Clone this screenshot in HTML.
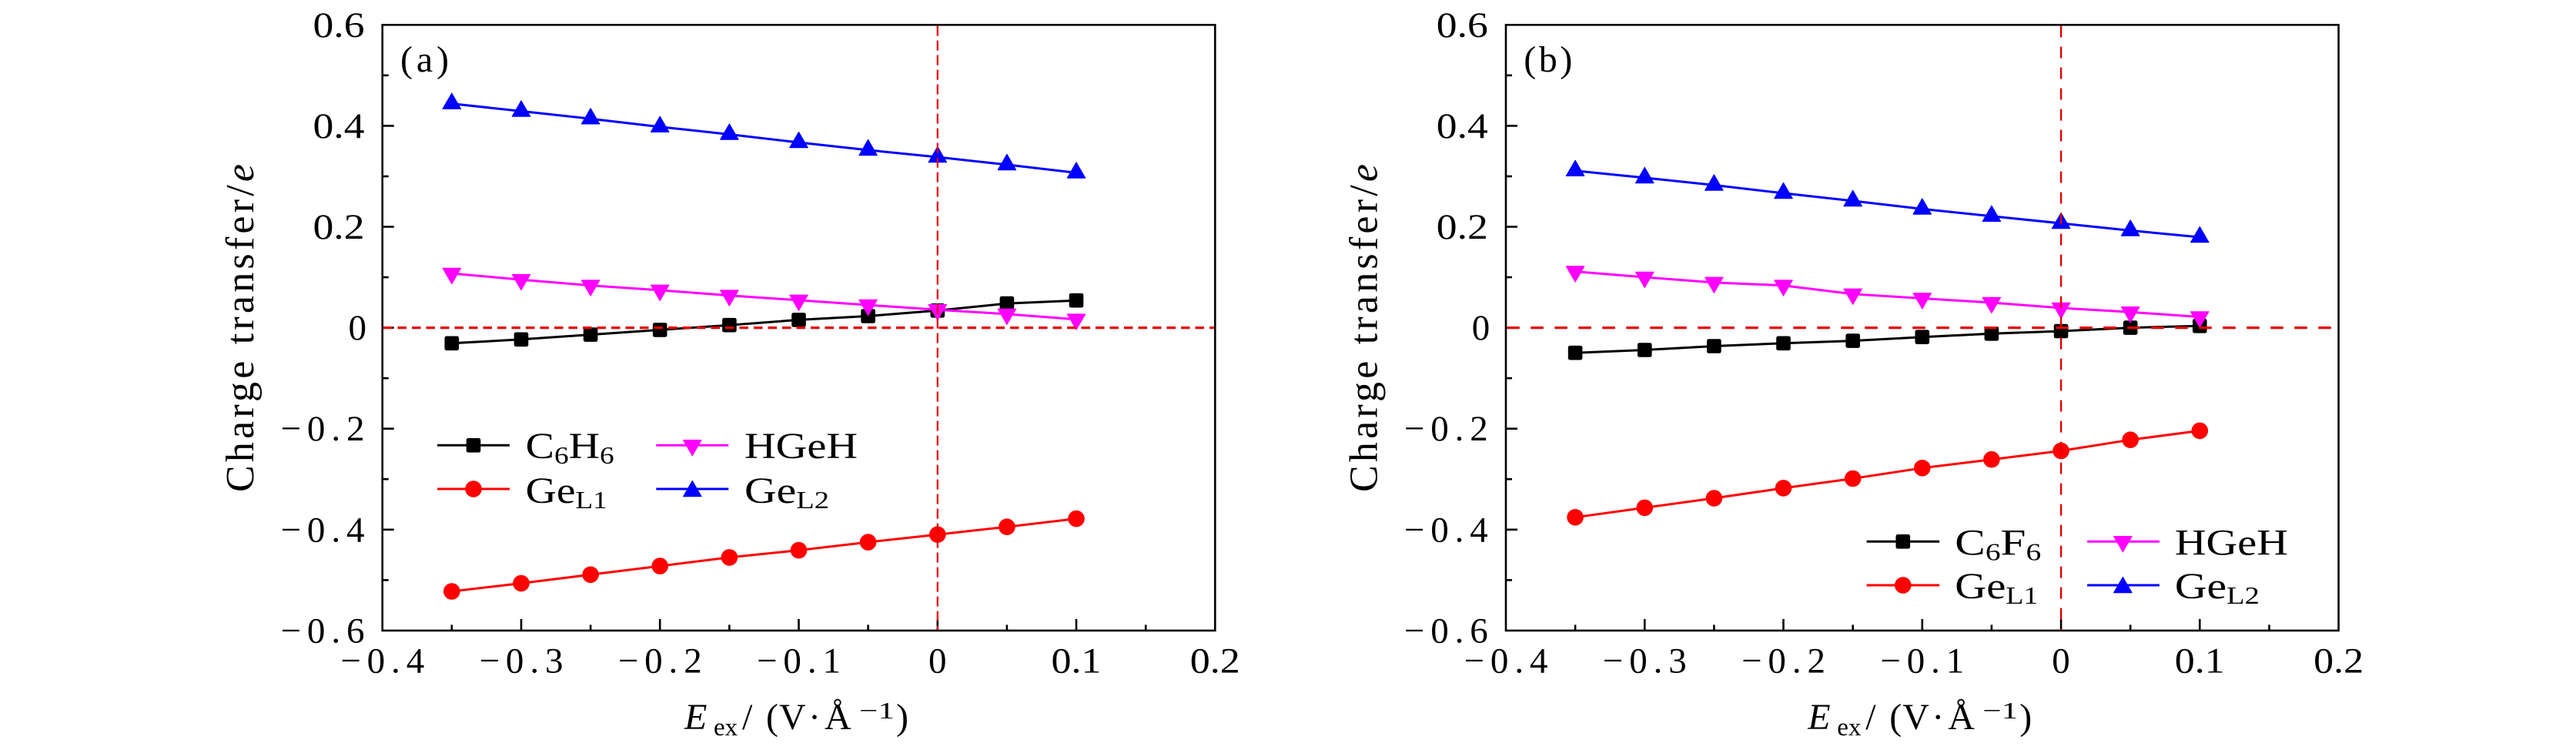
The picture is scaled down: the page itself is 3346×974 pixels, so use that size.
<!DOCTYPE html>
<html>
<head>
<meta charset="utf-8">
<style>
html,body{margin:0;padding:0;background:#fff;}
svg{display:block;}
svg text{font-family:"Liberation Serif","DejaVu Serif",serif;fill:#000;}
</style>
</head>
<body>
<svg width="3346" height="974" viewBox="0 0 3346 974" xmlns="http://www.w3.org/2000/svg" font-family="'Liberation Serif', 'DejaVu Serif', serif">
<defs>
  <rect id="sq" x="-9.3" y="-9.3" width="18.6" height="18.6" rx="2.5" fill="#000"/>
  <circle id="ci" r="10.8" fill="#ff0000"/>
  <path id="tu" d="M0,-13.6 L11.8,6.8 L-11.8,6.8 Z" fill="#0000ff" stroke="#0000ff" stroke-width="1" stroke-linejoin="round"/>
  <path id="td" d="M0,13.6 L11.8,-6.8 L-11.8,-6.8 Z" fill="#ff00ff" stroke="#ff00ff" stroke-width="1" stroke-linejoin="round"/>
</defs>

<!-- ================= PANEL A ================= -->
<g id="pa">
  <rect x="496.7" y="32.3" width="1081.6" height="786.6" fill="none" stroke="#000" stroke-width="2.6"/>
  <g stroke="#000" stroke-width="2.6">
    <line x1="496.7" y1="163.4" x2="511.7" y2="163.4"/>
    <line x1="496.7" y1="294.5" x2="511.7" y2="294.5"/>
    <line x1="496.7" y1="425.6" x2="511.7" y2="425.6"/>
    <line x1="496.7" y1="556.7" x2="511.7" y2="556.7"/>
    <line x1="496.7" y1="687.8" x2="511.7" y2="687.8"/>
    <line x1="496.7" y1="97.85" x2="504.7" y2="97.85"/>
    <line x1="496.7" y1="229" x2="504.7" y2="229"/>
    <line x1="496.7" y1="360.05" x2="504.7" y2="360.05"/>
    <line x1="496.7" y1="491.15" x2="504.7" y2="491.15"/>
    <line x1="496.7" y1="622.25" x2="504.7" y2="622.25"/>
    <line x1="496.7" y1="753.35" x2="504.7" y2="753.35"/>
    <line x1="677" y1="818.9" x2="677" y2="803.9"/>
    <line x1="857.2" y1="818.9" x2="857.2" y2="803.9"/>
    <line x1="1037.5" y1="818.9" x2="1037.5" y2="803.9"/>
    <line x1="1217.8" y1="818.9" x2="1217.8" y2="803.9"/>
    <line x1="1398" y1="818.9" x2="1398" y2="803.9"/>
    <line x1="586.8" y1="818.9" x2="586.8" y2="811.4"/>
    <line x1="767.1" y1="818.9" x2="767.1" y2="811.4"/>
    <line x1="947.4" y1="818.9" x2="947.4" y2="811.4"/>
    <line x1="1127.6" y1="818.9" x2="1127.6" y2="811.4"/>
    <line x1="1307.9" y1="818.9" x2="1307.9" y2="811.4"/>
    <line x1="1488.2" y1="818.9" x2="1488.2" y2="811.4"/>
  </g>
  <g font-size="47">
    <text x="406.5" y="47.8" textLength="67" lengthAdjust="spacingAndGlyphs">0.6</text>
    <text x="406.5" y="178.9" textLength="67" lengthAdjust="spacingAndGlyphs">0.4</text>
    <text x="406.5" y="310" textLength="67" lengthAdjust="spacingAndGlyphs">0.2</text>
    <text x="452.5" y="441.1">0</text>
    <text x="364.5" y="572.2" textLength="109" lengthAdjust="spacing">−0.2</text>
    <text x="364.5" y="703.3" textLength="109" lengthAdjust="spacing">−0.4</text>
    <text x="364.5" y="834.4" textLength="109" lengthAdjust="spacing">−0.6</text>
  </g>
  <g font-size="47">
    <text x="442.2" y="873.3" textLength="109" lengthAdjust="spacing">−0.4</text>
    <text x="622.5" y="873.3" textLength="109" lengthAdjust="spacing">−0.3</text>
    <text x="802.7" y="873.3" textLength="109" lengthAdjust="spacing">−0.2</text>
    <text x="983" y="873.3" textLength="109" lengthAdjust="spacing">−0.1</text>
    <text x="1206" y="873.3">0</text>
    <text x="1365.5" y="873.3" textLength="65" lengthAdjust="spacingAndGlyphs">0.1</text>
    <text x="1545.8" y="873.3" textLength="65" lengthAdjust="spacingAndGlyphs">0.2</text>
  </g>
  <text transform="translate(329,639) rotate(-90)" x="0" y="0" font-size="52" textLength="426" lengthAdjust="spacing">Charge transfer/<tspan font-style="italic">e</tspan></text>
  <g font-size="48">
    <text x="889" y="947" font-style="italic">E</text>
    <text x="927" y="955" font-size="33">ex</text>
    <text x="964" y="947">/</text>
    <text x="995" y="947">(</text>
    <text x="1012" y="947">V</text>
    <text x="1050" y="947">·</text>
    <text x="1071" y="947">Å</text>
    <text x="1116" y="933" font-size="31" textLength="46" lengthAdjust="spacingAndGlyphs">−1</text>
    <text x="1164" y="947">)</text>
  </g>
  <text x="520" y="93" font-size="48" textLength="63" lengthAdjust="spacing">(a)</text>

  <polyline fill="none" stroke="#000" stroke-width="3" stroke-linejoin="round"
    points="586.8,445.8 677,440.8 767.1,434.6 857.2,428.4 947.4,422.2 1037.5,415.4 1127.6,410.5 1217.8,403.3 1307.9,394.1 1398,390.2"/>
  <g>
    <use href="#sq" x="586.8" y="445.8"/><use href="#sq" x="677" y="440.8"/><use href="#sq" x="767.1" y="434.6"/><use href="#sq" x="857.2" y="428.4"/><use href="#sq" x="947.4" y="422.2"/><use href="#sq" x="1037.5" y="415.4"/><use href="#sq" x="1127.6" y="410.5"/><use href="#sq" x="1217.8" y="403.3"/><use href="#sq" x="1307.9" y="394.1"/><use href="#sq" x="1398" y="390.2"/>
  </g>
  <polyline fill="none" stroke="#ff0000" stroke-width="3" stroke-linejoin="round"
    points="586.8,768 677,757.5 767.1,746.3 857.2,735.1 947.4,723.9 1037.5,714.6 1127.6,704.1 1217.8,694.2 1307.9,684.2 1398,673.6"/>
  <g>
    <use href="#ci" x="586.8" y="768"/><use href="#ci" x="677" y="757.5"/><use href="#ci" x="767.1" y="746.3"/><use href="#ci" x="857.2" y="735.1"/><use href="#ci" x="947.4" y="723.9"/><use href="#ci" x="1037.5" y="714.6"/><use href="#ci" x="1127.6" y="704.1"/><use href="#ci" x="1217.8" y="694.2"/><use href="#ci" x="1307.9" y="684.2"/><use href="#ci" x="1398" y="673.6"/>
  </g>
  <polyline fill="none" stroke="#ff00ff" stroke-width="3" stroke-linejoin="round"
    points="586.8,355.1 677,363.2 767.1,370.7 857.2,376.9 947.4,383.7 1037.5,389.9 1127.6,396.1 1217.8,402.3 1307.9,407.9 1398,414.7"/>
  <g>
    <use href="#td" x="586.8" y="355.1"/><use href="#td" x="677" y="363.2"/><use href="#td" x="767.1" y="370.7"/><use href="#td" x="857.2" y="376.9"/><use href="#td" x="947.4" y="383.7"/><use href="#td" x="1037.5" y="389.9"/><use href="#td" x="1127.6" y="396.1"/><use href="#td" x="1217.8" y="402.3"/><use href="#td" x="1307.9" y="407.9"/><use href="#td" x="1398" y="414.7"/>
  </g>
  <polyline fill="none" stroke="#0000ff" stroke-width="3" stroke-linejoin="round"
    points="586.8,134.6 677,144.4 767.1,154.2 857.2,164.7 947.4,174.5 1037.5,185 1127.6,194.9 1217.8,204 1307.9,213.9 1398,224.4"/>
  <g>
    <use href="#tu" x="586.8" y="134.6"/><use href="#tu" x="677" y="144.4"/><use href="#tu" x="767.1" y="154.2"/><use href="#tu" x="857.2" y="164.7"/><use href="#tu" x="947.4" y="174.5"/><use href="#tu" x="1037.5" y="185"/><use href="#tu" x="1127.6" y="194.9"/><use href="#tu" x="1217.8" y="204"/><use href="#tu" x="1307.9" y="213.9"/><use href="#tu" x="1398" y="224.4"/>
  </g>

  <line x1="1217.8" y1="33.6" x2="1217.8" y2="817.6" stroke="#e40000" stroke-width="2.2" stroke-dasharray="13 6"/>
  <line x1="498" y1="425.6" x2="1577" y2="425.6" stroke="#e40000" stroke-width="3.2" stroke-dasharray="11.5 7"/>

  <line x1="568" y1="578.3" x2="662" y2="578.3" stroke="#000" stroke-width="3"/>
  <use href="#sq" x="615" y="578.3"/>
  <line x1="568" y1="635" x2="662" y2="635" stroke="#ff0000" stroke-width="3"/>
  <use href="#ci" x="615" y="635"/>
  <line x1="852.3" y1="578.3" x2="946.3" y2="578.3" stroke="#ff00ff" stroke-width="3"/>
  <use href="#td" x="899.3" y="578.3"/>
  <line x1="852.3" y1="635" x2="946.3" y2="635" stroke="#0000ff" stroke-width="3"/>
  <use href="#tu" x="899.3" y="638"/>
  <g font-size="48">
    <text x="682.7" y="595" textLength="115" lengthAdjust="spacingAndGlyphs">C<tspan font-size="32" dy="7">6</tspan><tspan dy="-7">H</tspan><tspan font-size="32" dy="7">6</tspan></text>
    <text x="682.7" y="653" textLength="106" lengthAdjust="spacingAndGlyphs">Ge<tspan font-size="32" dy="7">L1</tspan></text>
    <text x="967" y="595" textLength="147" lengthAdjust="spacingAndGlyphs">HGeH</text>
    <text x="967" y="653" textLength="110" lengthAdjust="spacingAndGlyphs">Ge<tspan font-size="32" dy="7">L2</tspan></text>
  </g>
</g>

<!-- ================= PANEL B ================= -->
<g id="pb" transform="translate(1459.3,0)">
  <rect x="496.7" y="32.3" width="1081.6" height="786.6" fill="none" stroke="#000" stroke-width="2.6"/>
  <g stroke="#000" stroke-width="2.6">
    <line x1="496.7" y1="163.4" x2="511.7" y2="163.4"/>
    <line x1="496.7" y1="294.5" x2="511.7" y2="294.5"/>
    <line x1="496.7" y1="425.6" x2="511.7" y2="425.6"/>
    <line x1="496.7" y1="556.7" x2="511.7" y2="556.7"/>
    <line x1="496.7" y1="687.8" x2="511.7" y2="687.8"/>
    <line x1="496.7" y1="97.85" x2="504.7" y2="97.85"/>
    <line x1="496.7" y1="229" x2="504.7" y2="229"/>
    <line x1="496.7" y1="360.05" x2="504.7" y2="360.05"/>
    <line x1="496.7" y1="491.15" x2="504.7" y2="491.15"/>
    <line x1="496.7" y1="622.25" x2="504.7" y2="622.25"/>
    <line x1="496.7" y1="753.35" x2="504.7" y2="753.35"/>
    <line x1="677" y1="818.9" x2="677" y2="803.9"/>
    <line x1="857.2" y1="818.9" x2="857.2" y2="803.9"/>
    <line x1="1037.5" y1="818.9" x2="1037.5" y2="803.9"/>
    <line x1="1217.8" y1="818.9" x2="1217.8" y2="803.9"/>
    <line x1="1398" y1="818.9" x2="1398" y2="803.9"/>
    <line x1="586.8" y1="818.9" x2="586.8" y2="811.4"/>
    <line x1="767.1" y1="818.9" x2="767.1" y2="811.4"/>
    <line x1="947.4" y1="818.9" x2="947.4" y2="811.4"/>
    <line x1="1127.6" y1="818.9" x2="1127.6" y2="811.4"/>
    <line x1="1307.9" y1="818.9" x2="1307.9" y2="811.4"/>
    <line x1="1488.2" y1="818.9" x2="1488.2" y2="811.4"/>
  </g>
  <g font-size="47">
    <text x="406.5" y="47.8" textLength="67" lengthAdjust="spacingAndGlyphs">0.6</text>
    <text x="406.5" y="178.9" textLength="67" lengthAdjust="spacingAndGlyphs">0.4</text>
    <text x="406.5" y="310" textLength="67" lengthAdjust="spacingAndGlyphs">0.2</text>
    <text x="452.5" y="441.1">0</text>
    <text x="364.5" y="572.2" textLength="109" lengthAdjust="spacing">−0.2</text>
    <text x="364.5" y="703.3" textLength="109" lengthAdjust="spacing">−0.4</text>
    <text x="364.5" y="834.4" textLength="109" lengthAdjust="spacing">−0.6</text>
  </g>
  <g font-size="47">
    <text x="442.2" y="873.3" textLength="109" lengthAdjust="spacing">−0.4</text>
    <text x="622.5" y="873.3" textLength="109" lengthAdjust="spacing">−0.3</text>
    <text x="802.7" y="873.3" textLength="109" lengthAdjust="spacing">−0.2</text>
    <text x="983" y="873.3" textLength="109" lengthAdjust="spacing">−0.1</text>
    <text x="1206" y="873.3">0</text>
    <text x="1365.5" y="873.3" textLength="65" lengthAdjust="spacingAndGlyphs">0.1</text>
    <text x="1545.8" y="873.3" textLength="65" lengthAdjust="spacingAndGlyphs">0.2</text>
  </g>
  <text transform="translate(329,639) rotate(-90)" x="0" y="0" font-size="52" textLength="426" lengthAdjust="spacing">Charge transfer/<tspan font-style="italic">e</tspan></text>
  <g font-size="48">
    <text x="889" y="947" font-style="italic">E</text>
    <text x="927" y="955" font-size="33">ex</text>
    <text x="964" y="947">/</text>
    <text x="995" y="947">(</text>
    <text x="1012" y="947">V</text>
    <text x="1050" y="947">·</text>
    <text x="1071" y="947">Å</text>
    <text x="1116" y="933" font-size="31" textLength="46" lengthAdjust="spacingAndGlyphs">−1</text>
    <text x="1164" y="947">)</text>
  </g>
  <text x="520" y="93" font-size="48" textLength="63" lengthAdjust="spacing">(b)</text>

  <polyline fill="none" stroke="#000" stroke-width="3" stroke-linejoin="round"
    points="586.8,458.2 677,454.5 767.1,449.5 857.2,445.8 947.4,442.6 1037.5,437.7 1127.6,433.3 1217.8,430 1307.9,425.6 1398,423.3"/>
  <g>
    <use href="#sq" x="586.8" y="458.2"/><use href="#sq" x="677" y="454.5"/><use href="#sq" x="767.1" y="449.5"/><use href="#sq" x="857.2" y="445.8"/><use href="#sq" x="947.4" y="442.6"/><use href="#sq" x="1037.5" y="437.7"/><use href="#sq" x="1127.6" y="433.3"/><use href="#sq" x="1217.8" y="430"/><use href="#sq" x="1307.9" y="425.6"/><use href="#sq" x="1398" y="423.3"/>
  </g>
  <polyline fill="none" stroke="#ff0000" stroke-width="3" stroke-linejoin="round"
    points="586.8,671.8 677,659.4 767.1,647 857.2,633.9 947.4,621.5 1037.5,607.8 1127.6,596.7 1217.8,585.5 1307.9,571.2 1398,559.4"/>
  <g>
    <use href="#ci" x="586.8" y="671.8"/><use href="#ci" x="677" y="659.4"/><use href="#ci" x="767.1" y="647"/><use href="#ci" x="857.2" y="633.9"/><use href="#ci" x="947.4" y="621.5"/><use href="#ci" x="1037.5" y="607.8"/><use href="#ci" x="1127.6" y="596.7"/><use href="#ci" x="1217.8" y="585.5"/><use href="#ci" x="1307.9" y="571.2"/><use href="#ci" x="1398" y="559.4"/>
  </g>
  <polyline fill="none" stroke="#ff00ff" stroke-width="3" stroke-linejoin="round"
    points="586.8,352.6 677,360.05 767.1,366.9 857.2,370.7 947.4,381.9 1037.5,387.5 1127.6,393 1217.8,400 1307.9,405.3 1398,411.6"/>
  <g>
    <use href="#td" x="586.8" y="352.6"/><use href="#td" x="677" y="360.05"/><use href="#td" x="767.1" y="366.9"/><use href="#td" x="857.2" y="370.7"/><use href="#td" x="947.4" y="381.9"/><use href="#td" x="1037.5" y="387.5"/><use href="#td" x="1127.6" y="393"/><use href="#td" x="1217.8" y="400"/><use href="#td" x="1307.9" y="405.3"/><use href="#td" x="1398" y="411.6"/>
  </g>
  <polyline fill="none" stroke="#0000ff" stroke-width="3" stroke-linejoin="round"
    points="586.8,221.7 677,230.9 767.1,240.4 857.2,250.9 947.4,260.9 1037.5,271.4 1127.6,280.7 1217.8,290 1307.9,299.4 1398,308"/>
  <g>
    <use href="#tu" x="586.8" y="221.7"/><use href="#tu" x="677" y="230.9"/><use href="#tu" x="767.1" y="240.4"/><use href="#tu" x="857.2" y="250.9"/><use href="#tu" x="947.4" y="260.9"/><use href="#tu" x="1037.5" y="271.4"/><use href="#tu" x="1127.6" y="280.7"/><use href="#tu" x="1217.8" y="290"/><use href="#tu" x="1307.9" y="299.4"/><use href="#tu" x="1398" y="308"/>
  </g>

  <line x1="1217.8" y1="33.6" x2="1217.8" y2="817.6" stroke="#e40000" stroke-width="2.4" stroke-dasharray="15 12"/>
  <line x1="498" y1="425.6" x2="1577" y2="425.6" stroke="#e40000" stroke-width="3.2" stroke-dasharray="16.5 14.5"/>

  <line x1="965.3" y1="703.3" x2="1059.9" y2="703.3" stroke="#000" stroke-width="3"/>
  <use href="#sq" x="1012.5" y="703.3"/>
  <line x1="965.3" y1="760" x2="1059.9" y2="760" stroke="#ff0000" stroke-width="3"/>
  <use href="#ci" x="1012.5" y="760"/>
  <line x1="1251.8" y1="703.3" x2="1345.6" y2="703.3" stroke="#ff00ff" stroke-width="3"/>
  <use href="#td" x="1298.1" y="703.3"/>
  <line x1="1251.8" y1="760" x2="1345.6" y2="760" stroke="#0000ff" stroke-width="3"/>
  <use href="#tu" x="1298.1" y="763"/>
  <g font-size="48">
    <text x="1080" y="720.3" textLength="112" lengthAdjust="spacingAndGlyphs">C<tspan font-size="32" dy="7">6</tspan><tspan dy="-7">F</tspan><tspan font-size="32" dy="7">6</tspan></text>
    <text x="1080" y="777" textLength="108" lengthAdjust="spacingAndGlyphs">Ge<tspan font-size="32" dy="7">L1</tspan></text>
    <text x="1365.6" y="720.3" textLength="147" lengthAdjust="spacingAndGlyphs">HGeH</text>
    <text x="1365.6" y="777" textLength="110" lengthAdjust="spacingAndGlyphs">Ge<tspan font-size="32" dy="7">L2</tspan></text>
  </g>
</g>
</svg>
</body>
</html>
